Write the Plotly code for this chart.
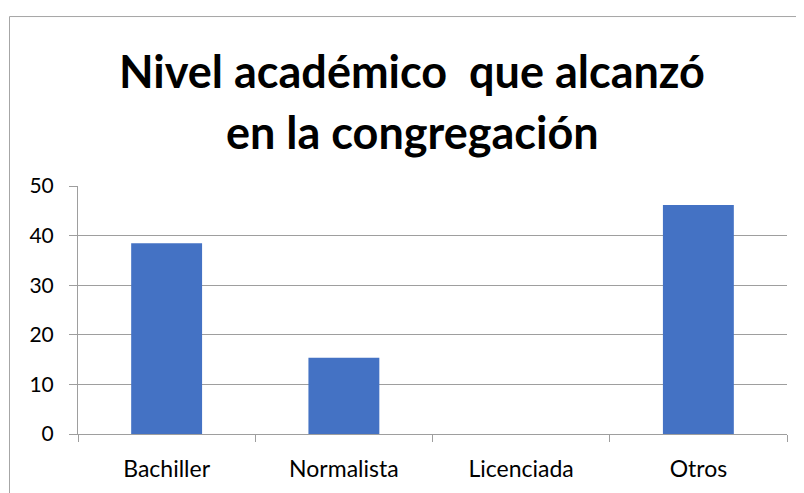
import plotly.graph_objects as go

categories = ["Bachiller", "Normalista", "Licenciada", "Otros"]
values = [38.46, 15.38, 0, 46.15]
y_ticks = [0, 10, 20, 30, 40, 50]
title_lines = ["Nivel académico  que alcanzó", "en la congregación"]

OFF = 8  # default body margin of the page
W, H = 804, 493
# target plot-area edges in page pixels
X0, X1, Y0, Y1 = 78, 787, 185.5, 434.3
L, R, T, B = X0 - OFF, W + OFF - X1, Y0 - OFF, H + OFF - Y1
pw, ph = W - L - R, H - T - B

def px_x(p):
    return (p - X0) / pw

def px_y(p):
    return (Y1 - p) / ph

fig = go.Figure(go.Bar(x=categories, y=values, marker=dict(color="#4472C4", line=dict(width=0)), width=0.4))

fig.update_layout(
    width=W, height=H,
    margin=dict(l=L, r=R, t=T, b=B, autoexpand=False),
    paper_bgcolor="white", plot_bgcolor="white",
    font=dict(family="Lato", size=21, color="#000000"),
    showlegend=False,
    bargap=0.6,
)
fig.update_xaxes(
    showline=True, linecolor="#9E9E9E", linewidth=1,
    ticks="outside", ticklen=7, tickcolor="#9E9E9E", tickson="boundaries",
    ticklabelstandoff=14, showgrid=False,
    tickfont=dict(size=23, family="Lato"),
)
fig.update_yaxes(
    range=[0, 50], tickvals=y_ticks,
    showline=True, linecolor="#9E9E9E", linewidth=1,
    ticks="outside", ticklen=8, tickcolor="#9E9E9E",
    showgrid=True, gridcolor="#9E9E9E", gridwidth=1,
    zeroline=False, ticklabelstandoff=11,
    tickfont=dict(size=21, family="Lato"),
)

fig.add_shape(type="rect", xref="paper", yref="paper",
              x0=px_x(9.5), x1=px_x(830), y0=px_y(15.5), y1=px_y(520),
              line=dict(color="#A6A6A6", width=1), fillcolor="rgba(0,0,0,0)", layer="below")

for line, ypix in zip(title_lines, [70, 131]):
    fig.add_annotation(text="<b>" + line + "</b>", xref="paper", yref="paper",
                       x=px_x(412), y=px_y(ypix), xanchor="center", yanchor="middle",
                       showarrow=False, font=dict(family="Lato", size=45, color="#000000"))

fig.write_html("out.html")
